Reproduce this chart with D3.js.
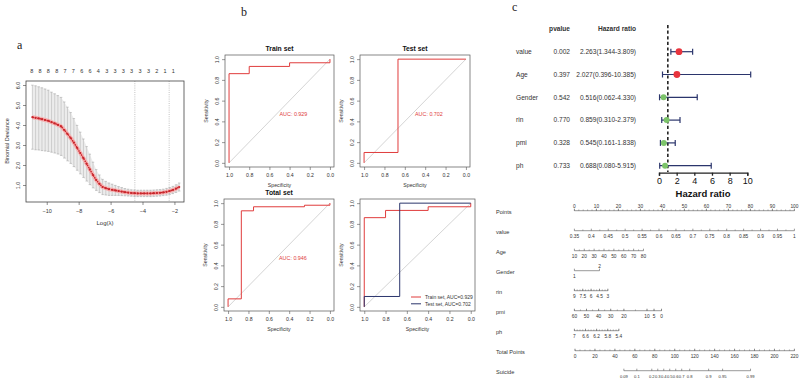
<!DOCTYPE html>
<html>
<head>
<meta charset="utf-8">
<script src="https://cdn.jsdelivr.net/npm/d3@7"></script>
<style>
  body { margin: 0; background: #fff; }
  svg { display: block; font-family: "Liberation Sans", Arial, sans-serif; }
</style>
</head>
<body>
<svg id="chart" width="800" height="379"></svg>
<script>
// ---- panel a: lasso cross-validation ----
const logLambda = [-10.9,-10.7,-10.5,-10.3,-10.1,-9.9,-9.7,-9.5,-9.3,-9.1,-8.9,-8.7,-8.5,-8.3,-8.1,-7.9,-7.7,-7.5,-7.3,-7.1,-6.9,-6.7,-6.5,-6.3,-6.1,-5.9,-5.7,-5.5,-5.3,-5.1,-4.9,-4.7,-4.5,-4.3,-4.1,-3.9,-3.7,-3.5,-3.3,-3.1,-2.9,-2.7,-2.5,-2.3,-2.1,-1.9,-1.7];
const devMean = [4.39,4.36,4.33,4.29,4.25,4.21,4.14,4.08,4.01,3.93,3.75,3.55,3.35,3.12,2.86,2.6,2.34,2.06,1.78,1.5,1.25,1.06,0.9,0.84,0.79,0.76,0.73,0.7,0.67,0.64,0.62,0.6,0.59,0.58,0.58,0.58,0.58,0.58,0.59,0.6,0.61,0.63,0.66,0.7,0.75,0.82,0.9];
const devSE = [1.6,1.6,1.58,1.57,1.55,1.53,1.5,1.48,1.46,1.45,1.4,1.34,1.27,1.2,1.12,1.04,0.96,0.86,0.76,0.64,0.52,0.44,0.38,0.34,0.31,0.28,0.25,0.22,0.2,0.18,0.17,0.16,0.16,0.16,0.16,0.16,0.16,0.16,0.16,0.16,0.16,0.16,0.17,0.17,0.18,0.19,0.2];
const topLogLambda = [-10.94,-10.42,-9.9,-9.37,-8.85,-8.33,-7.81,-7.29,-6.77,-6.24,-5.72,-5.2,-4.68,-4.16,-3.63,-3.11,-2.59,-2.07];
const topDf = ["8","8","8","8","7","7","6","6","4","3","3","3","3","3","3","2","1","1"];
const lambdaLines = [-4.48, -2.33];

// ---- panel b: ROC curves ----
const trainSpec = [1, 1, 0.8, 0.8, 0.4, 0.4, 0, 0];
const trainSens = [0, 0.86, 0.86, 0.93, 0.93, 0.965, 0.965, 1];
const testSpec = [1, 1, 0.667, 0.667, 0];
const testSens = [0, 0.1, 0.1, 1, 1];
const totalSpec = [1, 1, 0.87, 0.87, 0.75, 0.75, 0.25, 0.25, 0, 0];
const totalSens = [0, 0.077, 0.077, 0.926, 0.926, 0.965, 0.965, 0.98, 0.98, 1];
const rocTicks = [1, 0.8, 0.6, 0.4, 0.2, 0];

// ---- panel c: forest plot ----
const forestVars = ["value", "Age", "Gender", "rin", "pmi", "ph"];
const pValues = ["0.002", "0.397", "0.542", "0.770", "0.328", "0.733"];
const hr = [2.263, 2.027, 0.516, 0.859, 0.545, 0.688];
const hrLow = [1.344, 0.396, 0.062, 0.310, 0.161, 0.080];
const hrHigh = [3.809, 10.385, 4.330, 2.379, 1.838, 5.915];
const hrTicks = [0, 2, 4, 6, 8, 10];

// ---- panel c: nomogram ----
const pointsTicks = [0, 10, 20, 30, 40, 50, 60, 70, 80, 90, 100];
const valueTicks = [0.35, 0.4, 0.45, 0.5, 0.55, 0.6, 0.65, 0.7, 0.75, 0.8, 0.85, 0.9, 0.95, 1];
const valuePts = [0, 100];
const ageTicks = [10, 20, 30, 40, 50, 60, 70, 80];
const agePts = [0, 31.4];
const genderLevels = ["1", "2"];
const genderPts = [0, 11.4];
const rinTicks = [9, 7.5, 6, 4.5, 3];
const rinPts = [0, 15.2];
const pmiTicks = [60, 50, 40, 30, 20, 10, 5, 0];
const pmiPts = [0, 5.5, 11, 16.5, 22.5, 33, 36.2, 39.6];
const phTicks = [7, 6.6, 6.2, 5.8, 5.4];
const phPts = [0, 20.2];
const totalTicks = [0, 20, 40, 60, 80, 100, 120, 140, 160, 180, 200, 220];
const suicideTicks = [0.09, 0.1, 0.2, 0.3, 0.4, 0.5, 0.6, 0.7, 0.8, 0.9, 0.95, 0.99];
const suicideTotals = [49, 62, 77, 83, 89, 95, 101, 107, 115, 134, 148, 176];

const svg = d3.select("#chart");
svg.append("rect").attr("width", 800).attr("height", 379).attr("fill", "#fff");

// panel letters
svg.selectAll(".letter")
  .data([["a", 17, 49], ["b", 241, 16], ["c", 512, 11]])
  .join("text")
  .attr("x", (d) => d[1]).attr("y", (d) => d[2])
  .text((d) => d[0])
  .style("font-family", "'Liberation Serif', serif")
  .style("font-size", "12px").attr("fill", "#222");

// ================= panel a =================
const ax = d3.scaleLinear().domain([-11.3, -1.4]).range([26, 184]);
const ay = d3.scaleLinear().domain([0.15, 6.2]).range([202, 81]);
const ga = svg.append("g");

ga.append("path")
  .datum(logLambda)
  .attr("d", d3.area()
    .x((d) => ax(d))
    .y0((d, i) => ay(devMean[i] - devSE[i]))
    .y1((d, i) => ay(devMean[i] + devSE[i])))
  .attr("fill", "#ececec");

ga.selectAll(".eb").data(logLambda).join("line")
  .attr("x1", (d) => ax(d)).attr("x2", (d) => ax(d))
  .attr("y1", (d, i) => ay(devMean[i] - devSE[i]))
  .attr("y2", (d, i) => ay(devMean[i] + devSE[i]))
  .attr("stroke", "#b8b8b8").attr("stroke-width", 0.6);
[-1, 1].forEach((s) => {
  ga.selectAll(".cap" + s).data(logLambda).join("line")
    .attr("x1", (d) => ax(d) - 1.2).attr("x2", (d) => ax(d) + 1.2)
    .attr("y1", (d, i) => ay(devMean[i] + s * devSE[i]))
    .attr("y2", (d, i) => ay(devMean[i] + s * devSE[i]))
    .attr("stroke", "#a8a8a8").attr("stroke-width", 0.6);
});

ga.selectAll(".vl").data(lambdaLines).join("line")
  .attr("x1", (d) => ax(d)).attr("x2", (d) => ax(d))
  .attr("y1", 81).attr("y2", 202)
  .attr("stroke", "#9a9a9a").attr("stroke-width", 0.6)
  .attr("stroke-dasharray", "1,1.2");

const meanLine = d3.line().x((d) => ax(d)).y((d, i) => ay(devMean[i]));
ga.append("path").datum(logLambda).attr("d", meanLine)
  .attr("fill", "none").attr("stroke", "#f5b0b0").attr("stroke-width", 4);
ga.append("path").datum(logLambda).attr("d", meanLine)
  .attr("fill", "none").attr("stroke", "#c9252b").attr("stroke-width", 1.4)
  .attr("stroke-dasharray", "1.6,0.8");
ga.selectAll(".pt").data(logLambda).join("circle")
  .attr("cx", (d) => ax(d)).attr("cy", (d, i) => ay(devMean[i]))
  .attr("r", 1.1).attr("fill", "#c9252b");

ga.append("rect").attr("x", 26).attr("y", 81).attr("width", 158).attr("height", 121)
  .attr("fill", "none").attr("stroke", "#444").attr("stroke-width", 0.8);

const axA = ga.append("g").attr("transform", "translate(0,202)")
  .call(d3.axisBottom(ax).tickValues([-10, -8, -6, -4, -2]).tickSize(3).tickPadding(4));
const ayA = ga.append("g").attr("transform", "translate(26,0)")
  .call(d3.axisLeft(ay).tickValues([1, 2, 3, 4, 5, 6]).tickSize(3).tickPadding(4));
[axA, ayA].forEach((g) => {
  g.select(".domain").remove();
  g.selectAll("line").attr("stroke", "#444").attr("stroke-width", 0.6);
  g.selectAll("text").style("font-size", "5.5px").attr("fill", "#333");
});
ayA.selectAll(".tick text").attr("transform", "rotate(-90)").attr("x", 0).attr("y", -6)
  .attr("dy", "0").style("text-anchor", "middle");

ga.selectAll(".topn").data(topLogLambda).join("text")
  .attr("x", (d) => ax(d)).attr("y", 73)
  .text((d, i) => topDf[i])
  .style("font-size", "5.5px").style("text-anchor", "middle").attr("fill", "#333");

ga.append("text").attr("x", 105).attr("y", 225).text("Log(λ)")
  .style("font-size", "6px").style("text-anchor", "middle").attr("fill", "#333");
ga.append("text").attr("transform", "translate(9,141) rotate(-90)")
  .text("Binomial Deviance")
  .style("font-size", "5.5px").style("text-anchor", "middle").attr("fill", "#333");

// ================= panel b =================
const red = "#e03c3c";
const navy = "#2b356c";

function rocPanel(box, title, curves, auc, legend) {
  const g = svg.append("g");
  const x = d3.scaleLinear().domain([1.04, -0.04]).range([box.x0, box.x1]);
  const y = d3.scaleLinear().domain([-0.04, 1.04]).range([box.y1, box.y0]);
  g.append("line")
    .attr("x1", x(1)).attr("y1", y(0)).attr("x2", x(0)).attr("y2", y(1))
    .attr("stroke", "#c9c9c9").attr("stroke-width", 0.8);
  curves.forEach((c) => {
    g.append("path")
      .datum(c.spec)
      .attr("d", d3.line().x((d) => x(d)).y((d, i) => y(c.sens[i])))
      .attr("fill", "none").attr("stroke", c.color).attr("stroke-width", 1);
  });
  g.append("rect")
    .attr("x", box.x0).attr("y", box.y0)
    .attr("width", box.x1 - box.x0).attr("height", box.y1 - box.y0)
    .attr("fill", "none").attr("stroke", "#555").attr("stroke-width", 0.7);
  const gx = g.append("g").attr("transform", `translate(0,${box.y1})`)
    .call(d3.axisBottom(x).tickValues(rocTicks).tickFormat(d3.format(".1f")).tickSize(3).tickPadding(3));
  const gy = g.append("g").attr("transform", `translate(${box.x0},0)`)
    .call(d3.axisLeft(y).tickValues(rocTicks).tickFormat(d3.format(".1f")).tickSize(3).tickPadding(3));
  [gx, gy].forEach((a) => {
    a.select(".domain").remove();
    a.selectAll("line").attr("stroke", "#555").attr("stroke-width", 0.6);
    a.selectAll("text").style("font-size", "5.2px").attr("fill", "#333");
  });
  gy.selectAll(".tick text").attr("transform", "rotate(-90)").attr("x", 0).attr("y", -6.5)
    .attr("dy", "0").style("text-anchor", "middle");
  g.append("text").attr("x", (box.x0 + box.x1) / 2).attr("y", box.y0 - 4)
    .text(title).style("font-size", "6.8px").style("font-weight", "bold")
    .style("text-anchor", "middle").attr("fill", "#111");
  g.append("text").attr("x", (box.x0 + box.x1) / 2).attr("y", box.y1 + 20)
    .text("Specificity").style("font-size", "5.2px")
    .style("text-anchor", "middle").attr("fill", "#333");
  g.append("text")
    .attr("transform", `translate(${box.x0 - 17},${(box.y0 + box.y1) / 2}) rotate(-90)`)
    .text("Sensitivity").style("font-size", "5.2px")
    .style("text-anchor", "middle").attr("fill", "#333");
  if (auc) {
    g.append("text").attr("x", x(0.5)).attr("y", y(0.47)).attr("dy", "0.35em")
      .text(auc).style("font-size", "5.4px").attr("fill", red);
  }
  if (legend) {
    legend.forEach((l, i) => {
      const ly = box.y1 - 14 + i * 6.8;
      g.append("line").attr("x1", box.x0 + 51).attr("x2", box.x0 + 61)
        .attr("y1", ly).attr("y2", ly).attr("stroke", l.color).attr("stroke-width", 1);
      g.append("text").attr("x", box.x0 + 65).attr("y", ly).attr("dy", "0.35em")
        .text(l.label).style("font-size", "5px").attr("fill", "#333");
    });
  }
}

rocPanel({ x0: 225, x1: 334, y0: 55, y1: 167 }, "Train set",
  [{ spec: trainSpec, sens: trainSens, color: red }], "AUC: 0.929");
rocPanel({ x0: 360, x1: 470, y0: 55, y1: 167 }, "Test set",
  [{ spec: testSpec, sens: testSens, color: red }], "AUC: 0.702");
rocPanel({ x0: 224, x1: 334, y0: 199, y1: 311 }, "Total set",
  [{ spec: totalSpec, sens: totalSens, color: red }], "AUC: 0.946");
rocPanel({ x0: 360, x1: 475, y0: 199, y1: 311 }, "",
  [{ spec: trainSpec, sens: trainSens, color: red }, { spec: testSpec, sens: testSens, color: navy }],
  null,
  [{ label: "Train set, AUC=0.929", color: red }, { label: "Test set, AUC=0.702", color: navy }]);

// ================= panel c: forest =================
const fy = d3.scalePoint().domain(forestVars).range([51.7, 165.7]);
const fx = d3.scaleLinear().domain([0, 10]).range([659, 747.3]);
const gf = svg.append("g").style("font-size", "6.6px").attr("fill", "#333");

gf.append("text").attr("x", 570).attr("y", 31).text("pvalue")
  .style("font-weight", "bold").style("text-anchor", "end");
gf.append("text").attr("x", 636).attr("y", 31).text("Hazard ratio")
  .style("font-weight", "bold").style("text-anchor", "end");

gf.selectAll(".fv").data(forestVars).join("text")
  .attr("x", 516).attr("y", (d) => fy(d)).attr("dy", "0.35em").text((d) => d);
gf.selectAll(".fp").data(forestVars).join("text")
  .attr("x", 570).attr("y", (d) => fy(d)).attr("dy", "0.35em")
  .style("text-anchor", "end").text((d, i) => pValues[i]);
gf.selectAll(".fh").data(forestVars).join("text")
  .attr("x", 636).attr("y", (d) => fy(d)).attr("dy", "0.35em")
  .style("text-anchor", "end")
  .text((d, i) => `${hr[i].toFixed(3)}(${hrLow[i].toFixed(3)}-${hrHigh[i].toFixed(3)})`);

gf.append("line").attr("x1", fx(1)).attr("x2", fx(1)).attr("y1", 25).attr("y2", 172)
  .attr("stroke", "#222").attr("stroke-width", 1.6).attr("stroke-dasharray", "3.2,2.4");

gf.selectAll(".ci").data(forestVars).join("line")
  .attr("x1", (d, i) => fx(hrLow[i])).attr("x2", (d, i) => fx(hrHigh[i]))
  .attr("y1", (d) => fy(d)).attr("y2", (d) => fy(d))
  .attr("stroke", navy).attr("stroke-width", 1.2);
[hrLow, hrHigh].forEach((arr) => {
  gf.selectAll(null).data(forestVars).join("line")
    .attr("x1", (d, i) => fx(arr[i])).attr("x2", (d, i) => fx(arr[i]))
    .attr("y1", (d) => fy(d) - 3).attr("y2", (d) => fy(d) + 3)
    .attr("stroke", navy).attr("stroke-width", 1.2);
});
gf.selectAll(".hp").data(forestVars).join("circle")
  .attr("cx", (d, i) => fx(hr[i])).attr("cy", (d) => fy(d))
  .attr("r", (d, i) => hr[i] > 1 ? 3.4 : 3)
  .attr("fill", (d, i) => hr[i] > 1 ? "#e8343e" : "#7cc46a");

const fAxis = gf.append("g").attr("transform", "translate(0,172.7)")
  .call(d3.axisBottom(fx).tickValues(hrTicks).tickSize(3).tickPadding(2));
fAxis.select(".domain").attr("stroke", "#222").attr("stroke-width", 1.3);
fAxis.selectAll("line").attr("stroke", "#222").attr("stroke-width", 1.3);
fAxis.selectAll("text").style("font-size", "9px").attr("fill", "#111");
gf.append("text").attr("x", 703).attr("y", 197).text("Hazard ratio")
  .style("font-size", "9.5px").style("font-weight", "bold")
  .style("text-anchor", "middle").attr("fill", "#111");

// ================= panel c: nomogram =================
const ptsX = d3.scaleLinear().domain([0, 100]).range([574.4, 794.4]);
const totX = d3.scaleLinear().domain([0, 220]).range([575, 794.4]);
const gn = svg.append("g");

function nomoAxis(yLine, ticks, toX, minor, above, fontSize) {
  const g = gn.append("g");
  const xs = ticks.map(toX).concat(minor.map(toX));
  g.append("line").attr("x1", d3.min(xs)).attr("x2", d3.max(xs))
    .attr("y1", yLine).attr("y2", yLine)
    .attr("stroke", "#555").attr("stroke-width", 0.6);
  g.selectAll(".mi").data(minor).join("line")
    .attr("x1", toX).attr("x2", toX).attr("y1", yLine).attr("y2", yLine - 1.2)
    .attr("stroke", "#555").attr("stroke-width", 0.5);
  g.selectAll(".ma").data(ticks).join("line")
    .attr("x1", toX).attr("x2", toX).attr("y1", yLine).attr("y2", yLine - 2)
    .attr("stroke", "#555").attr("stroke-width", 0.6);
  g.selectAll("text").data(ticks).join("text")
    .attr("x", toX).attr("y", above ? yLine - 3 : yLine + 7.2)
    .text((d) => String(d))
    .style("font-size", (fontSize || 4.8) + "px").style("text-anchor", "middle").attr("fill", "#333");
}

const rowLabels = [["Points", 212], ["value", 232], ["Age", 252], ["Gender", 272], ["rin", 292],
  ["pmi", 312], ["ph", 332], ["Total Points", 352], ["Suicide", 372]];
gn.selectAll(".rl").data(rowLabels).join("text")
  .attr("x", 496).attr("y", (d) => d[1]).attr("dy", "0.35em").text((d) => d[0])
  .style("font-size", "5.6px").attr("fill", "#333");

nomoAxis(210.7, pointsTicks, ptsX, d3.range(0, 101, 2), true);

const valS = d3.scaleLinear().domain([valueTicks[0], valueTicks[valueTicks.length - 1]]).range(valuePts);
nomoAxis(230.7, valueTicks, (d) => ptsX(valS(d)), d3.range(0.375, 1, 0.05), false);

const ageS = d3.scaleLinear().domain([ageTicks[0], ageTicks[ageTicks.length - 1]]).range(agePts);
nomoAxis(250.7, ageTicks, (d) => ptsX(ageS(d)), d3.range(15, 80, 10), false);

// gender: categorical, labels alternate below/above
{
  const g = gn.append("g");
  const gx = genderPts.map((p) => ptsX(p));
  g.append("line").attr("x1", gx[0]).attr("x2", gx[1]).attr("y1", 270.7).attr("y2", 270.7)
    .attr("stroke", "#555").attr("stroke-width", 0.6);
  g.selectAll("line.t").data(gx).join("line").attr("class", "t")
    .attr("x1", (d) => d).attr("x2", (d) => d).attr("y1", 270.7).attr("y2", 268.7)
    .attr("stroke", "#555").attr("stroke-width", 0.6);
  g.selectAll("text").data(genderLevels).join("text")
    .attr("x", (d, i) => gx[i]).attr("y", (d, i) => i === 0 ? 278 : 267.5)
    .text((d) => d).style("font-size", "4.8px").style("text-anchor", "middle").attr("fill", "#333");
}

const rinS = d3.scaleLinear().domain([rinTicks[0], rinTicks[rinTicks.length - 1]]).range(rinPts);
nomoAxis(290.7, rinTicks, (d) => ptsX(rinS(d)), d3.range(3, 9.01, 0.5), false);

const pmiS = d3.scaleLinear().domain(pmiTicks).range(pmiPts);
nomoAxis(310.7, pmiTicks, (d) => ptsX(pmiS(d)), d3.range(0, 61, 5), false);

const phS = d3.scaleLinear().domain([phTicks[0], phTicks[phTicks.length - 1]]).range(phPts);
nomoAxis(330.7, phTicks, (d) => ptsX(phS(d)), d3.range(5.4, 7.01, 0.1), false);

nomoAxis(350.7, totalTicks, totX, d3.range(0, 221, 5), false);

const sucS = d3.scaleLinear().domain(suicideTicks).range(suicideTotals);
nomoAxis(370.7, suicideTicks, (d) => totX(sucS(d)), [], false, 4.1);
</script>
</body>
</html>
